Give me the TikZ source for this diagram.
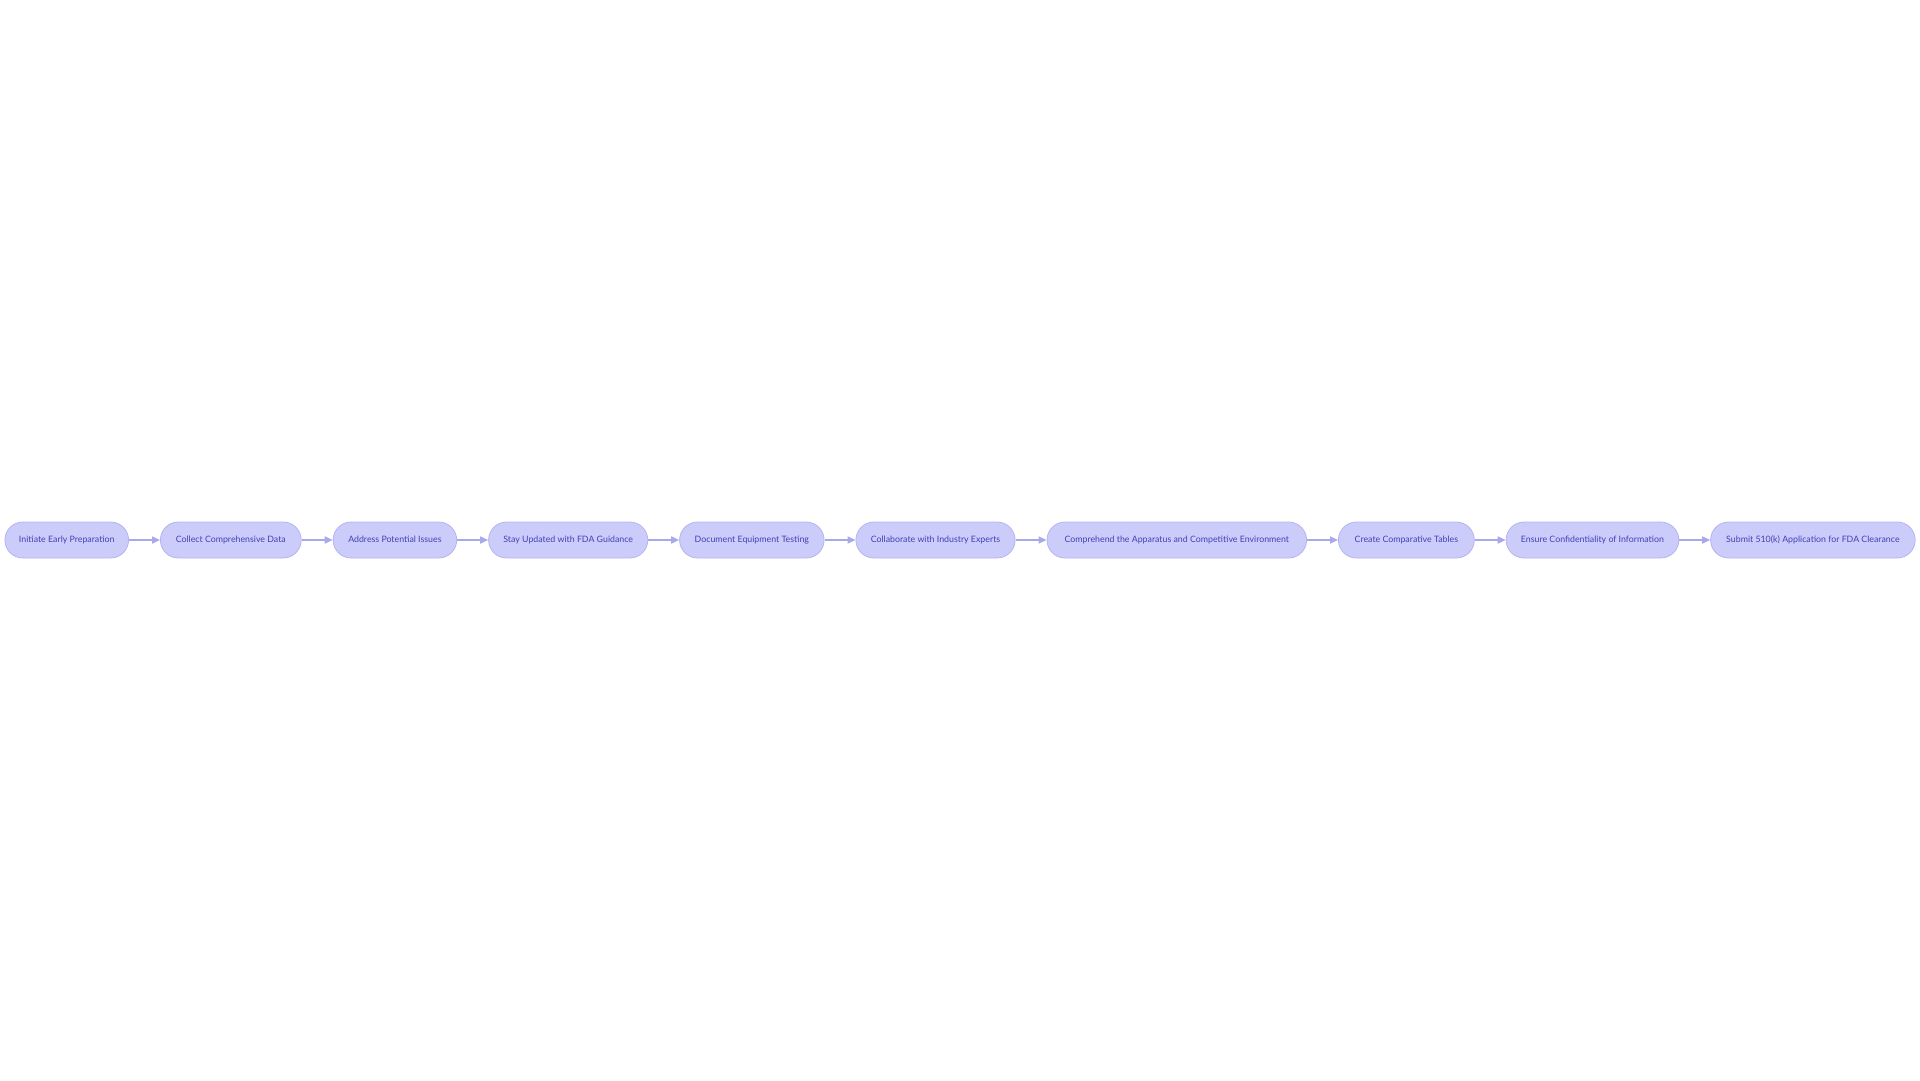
\documentclass[tikz,border=0pt]{standalone}
\usepackage{fontspec}
\setmainfont{Lato}
\usetikzlibrary{arrows.meta}
\definecolor{nodefill}{RGB}{204,204,250}
\definecolor{nodedraw}{RGB}{180,180,242}
\definecolor{nodetext}{RGB}{64,64,184}
\definecolor{linkcol}{RGB}{168,168,236}
\tikzset{
  stepbox/.style={draw=nodedraw, line width=0.8pt, fill=nodefill, rounded corners=18pt,
    minimum height=36pt, inner sep=0pt, text=nodetext, text height=6.6pt, text depth=2pt,
    font=\fontsize{8.8}{11}\selectfont},
  link/.style={draw=linkcol, line width=1.6pt, -{Triangle[length=8pt,width=7pt]}, shorten >=0pt}
}
\begin{document}
\begin{tikzpicture}[x=1pt,y=-1pt]
\useasboundingbox (0,0) rectangle (1920,1080);
\node[stepbox, minimum width=123.7pt] (n1) at (66.75,540) {Initiate Early Preparation};
\node[stepbox, minimum width=140.8pt] (n2) at (230.8,540) {Collect Comprehensive Data};
\node[stepbox, minimum width=123.6pt] (n3) at (394.9,540) {Address Potential Issues};
\node[stepbox, minimum width=159.2pt] (n4) at (568.2,540) {Stay Updated with FDA Guidance};
\node[stepbox, minimum width=144.5pt] (n5) at (751.85,540) {Document Equipment Testing};
\node[stepbox, minimum width=159.2pt] (n6) at (935.5,540) {Collaborate with Industry Experts};
\node[stepbox, minimum width=259.6pt] (n7) at (1176.8,540) {Comprehend the Apparatus and Competitive Environment};
\node[stepbox, minimum width=135.9pt] (n8) at (1406.35,540) {Create Comparative Tables};
\node[stepbox, minimum width=172.7pt] (n9) at (1592.45,540) {Ensure Confidentiality of Information};
\node[stepbox, minimum width=204.6pt] (n10) at (1812.9,540) {Submit 510(k) Application for FDA Clearance};
\foreach \a/\b in {n1/n2,n2/n3,n3/n4,n4/n5,n5/n6,n6/n7,n7/n8,n8/n9,n9/n10}
  \draw[link] (\a.east) -- (\b.west);
\end{tikzpicture}
\end{document}
